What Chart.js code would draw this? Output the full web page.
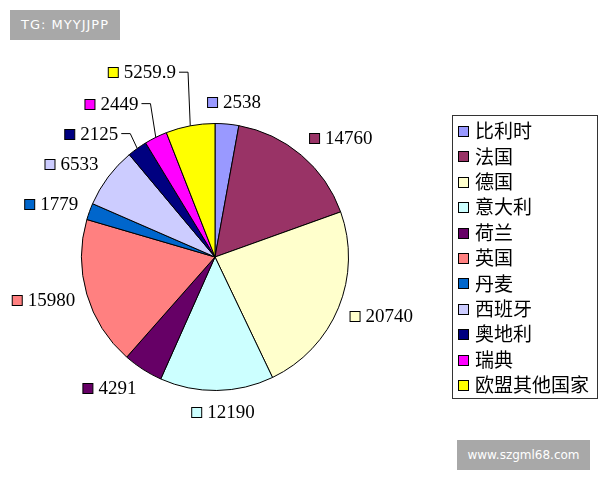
<!DOCTYPE html>
<html>
<head>
<meta charset="utf-8">
<script src="https://cdn.jsdelivr.net/npm/chart.js@4.4.1/dist/chart.umd.min.js"></script>
<style>
  body { margin: 0; background: #fff; }
  #wrap { position: relative; width: 600px; height: 480px; }
  .mark { position: absolute; background: #a8a8a8; color: #fff; font-family: "DejaVu Sans", sans-serif; font-size: 13px; text-align: center; }
  #tg { left: 10px; top: 10px; width: 110px; height: 30px; line-height: 30px; letter-spacing: 1px; }
  #site { left: 457px; top: 440px; width: 133px; height: 30px; line-height: 30px; font-size: 12px; }
</style>
</head>
<body>
<div id="wrap">
  <canvas id="pie-chart" width="600" height="480"></canvas>
  <div class="mark" id="tg">TG: MYYJJPP</div>
  <div class="mark" id="site">www.szgml68.com</div>
</div>
<script>
var countries = ['比利时', '法国', '德国', '意大利', '荷兰', '英国', '丹麦', '西班牙', '奥地利', '瑞典', '欧盟其他国家'];
var values = [2538, 14760, 20740, 12190, 4291, 15980, 1779, 6533, 2125, 2449, 5259.9];
var colors = ['#9999FF', '#993366', '#FFFFCC', '#CCFFFF', '#660066', '#FF8080', '#0066CC', '#CCCCFF', '#000080', '#FF00FF', '#FFFF00'];

// labels outside the pie, with small colour squares and leader lines
var outsideLabels = {
    id: 'outsideLabels',
    afterDatasetsDraw: function(chart, args, opts) {
        var ctx = chart.ctx;
        var meta = chart.getDatasetMeta(0);
        var ds = chart.data.datasets[0];
        ctx.save();
        ctx.font = '19px "Liberation Serif", serif';
        ctx.textBaseline = 'middle';
        meta.data.forEach(function(arc, i) {
            var mid = (arc.startAngle + arc.endAngle) / 2;
            var dx = Math.cos(mid), dy = Math.sin(mid);
            var r = arc.outerRadius;
            var ax = arc.x + dx * (r + 12);
            var ay = arc.y + dy * (r + 22);
            var text = String(ds.data[i]);
            var tw = ctx.measureText(text).width;
            var w = 10 + 6 + tw;
            var left;
            var lift = opts.leaders[i];
            if (lift !== undefined) {
                var cy = ay - lift;
                ctx.strokeStyle = '#000';
                ctx.lineWidth = 1;
                ctx.beginPath();
                ctx.moveTo(arc.x + dx * r, arc.y + dy * r);
                ctx.lineTo(ax, cy);
                ctx.lineTo(ax - 9, cy);
                ctx.stroke();
                left = ax - 12 - w;
                ay = cy;
            } else if (dx > 0.3) {
                left = ax;
            } else if (dx < -0.3) {
                left = ax - w;
            } else {
                left = ax - w / 2 + 6;
            }
            ctx.fillStyle = ds.backgroundColor[i];
            ctx.fillRect(left + 0.5, Math.round(ay - 5) + 0.5, 10, 10);
            ctx.strokeStyle = '#000';
            ctx.lineWidth = 1;
            ctx.strokeRect(left + 0.5, Math.round(ay - 5) + 0.5, 10, 10);
            ctx.fillStyle = '#000';
            ctx.textAlign = 'left';
            ctx.fillText(text, left + 16, ay + 1);
        });
        ctx.restore();
    }
};

// boxed legend on the right
var boxLegend = {
    id: 'boxLegend',
    afterDraw: function(chart, args, opts) {
        var ctx = chart.ctx;
        var ds = chart.data.datasets[0];
        ctx.save();
        ctx.strokeStyle = '#333';
        ctx.lineWidth = 1;
        ctx.strokeRect(opts.left + 0.5, opts.top + 0.5, opts.width, opts.height);
        ctx.font = '19px "Noto Sans CJK SC", sans-serif';
        ctx.textBaseline = 'middle';
        chart.data.labels.forEach(function(lbl, i) {
            var y = opts.top + 16 + i * opts.step;
            ctx.fillStyle = ds.backgroundColor[i];
            ctx.fillRect(opts.left + 6.5, Math.round(y - 5) + 0.5, 10, 10);
            ctx.strokeStyle = '#000';
            ctx.strokeRect(opts.left + 6.5, Math.round(y - 5) + 0.5, 10, 10);
            ctx.fillStyle = '#000';
            ctx.fillText(lbl, opts.left + 23, y);
        });
        ctx.restore();
    }
};

new Chart(document.getElementById('pie-chart'), {
    type: 'pie',
    data: {
        labels: countries,
        datasets: [{
            data: values,
            backgroundColor: colors,
            borderColor: '#000',
            borderWidth: 1
        }]
    },
    options: {
        responsive: false,
        animation: false,
        layout: { padding: { left: 81, right: 251, top: 123, bottom: 89 } },
        plugins: {
            legend: { display: false },
            tooltip: { enabled: false },
            outsideLabels: { leaders: { 8: -3, 9: 14, 10: 32 } },
            boxLegend: { left: 452, top: 115, width: 145, height: 283, step: 25.4 }
        }
    },
    plugins: [outsideLabels, boxLegend]
});
</script>
</body>
</html>
